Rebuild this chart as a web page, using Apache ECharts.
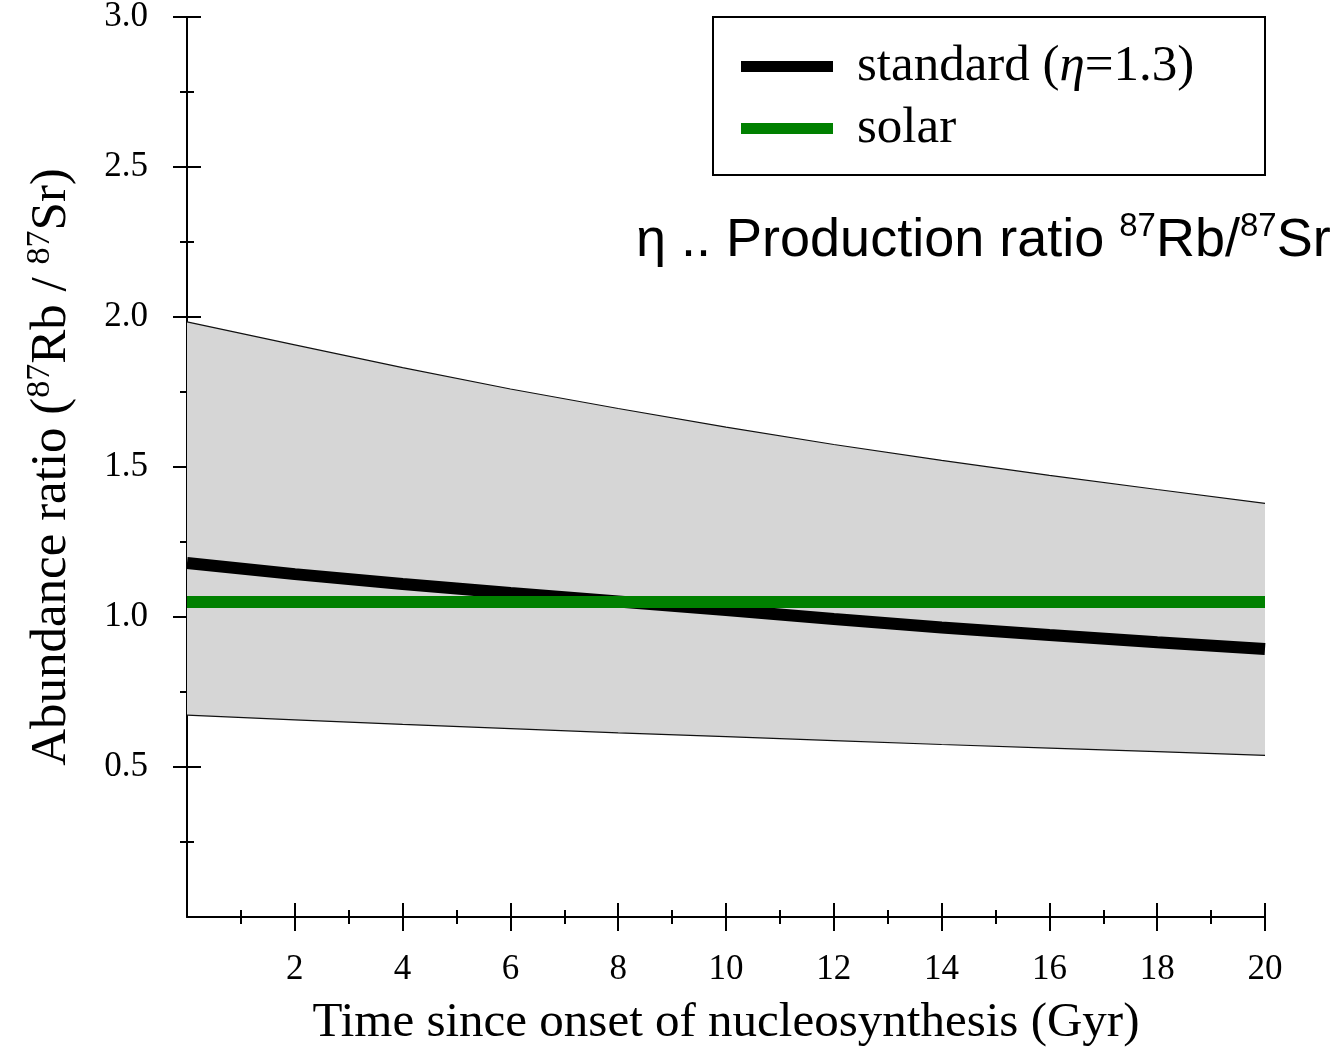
<!DOCTYPE html>
<html><head><meta charset="utf-8">
<script src="https://cdn.jsdelivr.net/npm/echarts@6/dist/echarts.min.js"></script>
<style>html,body{margin:0;padding:0;background:#fff}#c{width:1340px;height:1048px}</style>
</head><body><div id="c"></div>
<script>
const time = [0, 2, 4, 6, 8, 10, 12, 14, 16, 18, 20];
const standard = [1.180, 1.143, 1.110, 1.080, 1.052, 1.023, 0.993, 0.965, 0.940, 0.916, 0.893];
const solar = [1.05, 1.05, 1.05, 1.05, 1.05, 1.05, 1.05, 1.05, 1.05, 1.05, 1.05];
const upper = [1.984, 1.907, 1.831, 1.760, 1.695, 1.633, 1.575, 1.522, 1.472, 1.425, 1.379];
const lower = [0.673, 0.657, 0.642, 0.628, 0.614, 0.601, 0.588, 0.575, 0.563, 0.551, 0.539];
const xTicks = [2, 4, 6, 8, 10, 12, 14, 16, 18, 20];
const yTicks = [0.5, 1.0, 1.5, 2.0, 2.5, 3.0];

const serif = 'Liberation Serif';
const sans = 'Liberation Sans';
const pairs = arr => time.map((t, i) => [t, arr[i]]);

const tickStyle = { color: '#000', width: 2 };
function xAxisDef(inside, main) {
  return {
    type: 'value', min: 0, max: 20, interval: 2, position: 'bottom',
    axisLine: { show: main, onZero: false, lineStyle: { color: '#000', width: 2 } },
    axisTick: { show: true, inside: inside, length: 14, lineStyle: tickStyle, customValues: xTicks },
    minorTick: { show: true, splitNumber: 2, length: 7, lineStyle: tickStyle },
    axisLabel: main ? { customValues: xTicks, formatter: v => String(v), fontFamily: serif, fontSize: 35, color: '#000', margin: 35 } : { show: false },
    splitLine: { show: false },
    name: main ? 'Time since onset of nucleosynthesis (Gyr)' : '',
    nameLocation: 'middle', nameGap: 82,
    nameTextStyle: { fontFamily: serif, fontSize: 49, color: '#000' }
  };
}
function yAxisDef(inside, main) {
  return {
    type: 'value', min: 0, max: 3, interval: 0.5, position: 'left',
    axisLine: { show: main, onZero: false, lineStyle: { color: '#000', width: 2 } },
    axisTick: { show: true, inside: inside, length: 14, lineStyle: tickStyle, customValues: yTicks },
    minorTick: { show: true, splitNumber: 2, length: 7, lineStyle: tickStyle },
    axisLabel: main ? { customValues: yTicks, formatter: v => v.toFixed(1), fontFamily: serif, fontSize: 35, color: '#000', margin: 39 } : { show: false },
    splitLine: { show: false },
    name: main ? '{n|Abundance ratio (}{s|87}{n|Rb / }{s|87}{n|Sr)}' : '',
    nameLocation: 'middle', nameGap: 106, nameRotate: 90,
    nameTextStyle: {
      fontFamily: serif, fontSize: 51, color: '#000',
      rich: {
        n: { fontFamily: serif, fontSize: 51, color: '#000', lineHeight: 58 },
        s: { fontFamily: serif, fontSize: 34, color: '#000', verticalAlign: 'top', lineHeight: 34 }
      }
    }
  };
}

const chart = echarts.init(document.getElementById('c'));
chart.setOption({
  animation: false,
  backgroundColor: '#fff',
  grid: { left: 187, right: 75, top: 17, bottom: 131, containLabel: false, outerBoundsMode: 'none' },
  title: {
    text: '{n|η .. Production ratio }{s|87}{n|Rb/}{s|87}{n|Sr}',
    left: 636, top: 210, padding: 0,
    textStyle: {
      fontFamily: sans, fontSize: 54, fontWeight: 'normal', color: '#000',
      rich: {
        n: { fontFamily: sans, fontSize: 54, color: '#000', lineHeight: 62 },
        s: { fontFamily: sans, fontSize: 33, color: '#000', verticalAlign: 'top', lineHeight: 33 }
      }
    }
  },
  legend: {
    data: ['standard (η=1.3)', 'solar'],
    orient: 'vertical', left: 713, top: 17,
    padding: [24, 30, 21, 28], itemGap: 11,
    itemWidth: 92, itemHeight: 11, icon: 'rect',
    borderColor: '#000', borderWidth: 2, backgroundColor: '#fff',
    selectedMode: false,
    formatter: name => name === 'solar' ? '{n|solar}' : '{n|standard (}{i|η}{n|=1.3)}',
    textStyle: {
      fontFamily: serif, fontSize: 51, color: '#000', lineHeight: 50,
      width: 378, padding: [0, 0, 0, 19],
      rich: {
        n: { fontFamily: serif, fontSize: 51, color: '#000', lineHeight: 50 },
        i: { fontFamily: serif, fontSize: 51, fontStyle: 'italic', color: '#000', lineHeight: 50 }
      }
    }
  },
  xAxis: [xAxisDef(true, true), xAxisDef(false, false)],
  yAxis: [yAxisDef(true, true), yAxisDef(false, false)],
  series: [
    { name: 'band', type: 'custom', silent: true, z: 1,
      data: pairs(upper),
      renderItem: (params, api) => {
        if (params.dataIndex !== 0) return null;
        const pts = [];
        for (let i = 0; i < time.length; i++) pts.push(api.coord([time[i], upper[i]]));
        for (let i = time.length - 1; i >= 0; i--) pts.push(api.coord([time[i], lower[i]]));
        return { type: 'polygon', shape: { points: pts }, style: { fill: '#d6d6d6', stroke: null } };
      }
    },
    { name: 'upperEdge', type: 'line', data: pairs(upper), symbol: 'none', silent: true,
      lineStyle: { color: '#111', width: 1.2 }, z: 2 },
    { name: 'lowerEdge', type: 'line', data: pairs(lower), symbol: 'none', silent: true,
      lineStyle: { color: '#111', width: 1.2 }, z: 2 },
    { name: 'standard (η=1.3)', type: 'line', data: pairs(standard), symbol: 'none', color: '#000',
      lineStyle: { color: '#000', width: 12 }, z: 3 },
    { name: 'solar', type: 'line', data: pairs(solar), symbol: 'none', color: '#008000',
      lineStyle: { color: '#008000', width: 12 }, z: 4 }
  ]
});
</script>
</body></html>
